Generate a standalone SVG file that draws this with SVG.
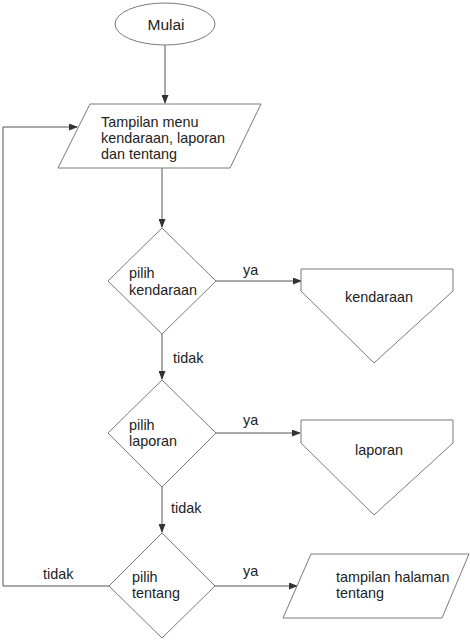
<svg xmlns="http://www.w3.org/2000/svg" width="470" height="640" viewBox="0 0 470 640">
<style>
.shape{fill:#fff;stroke:#7a7a7a;stroke-width:1}
.conn{fill:none;stroke:#555;stroke-width:1}
text{font-family:"Liberation Sans",Arial,sans-serif;font-size:14.4px;fill:#222}
</style>
<defs>
<marker id="arr" markerWidth="9" markerHeight="7" refX="8" refY="3.5" orient="auto" markerUnits="userSpaceOnUse">
<path d="M0,0 L9,3.5 L0,7 z" fill="#333"/>
</marker>
</defs>
<rect width="470" height="640" fill="#fff"/>
<g id="connectors">
<line class="conn" x1="165" y1="45" x2="165" y2="103" marker-end="url(#arr)"/>
<line class="conn" x1="162" y1="168" x2="162" y2="227" marker-end="url(#arr)"/>
<line class="conn" x1="216" y1="281" x2="301" y2="281" marker-end="url(#arr)"/>
<line class="conn" x1="162" y1="334" x2="162" y2="379" marker-end="url(#arr)"/>
<line class="conn" x1="216" y1="433" x2="300" y2="433" marker-end="url(#arr)"/>
<line class="conn" x1="162" y1="487" x2="162" y2="532" marker-end="url(#arr)"/>
<line class="conn" x1="215" y1="586" x2="297" y2="586" marker-end="url(#arr)"/>
<polyline class="conn" points="109,586 3,586 3,127 77,127" marker-end="url(#arr)"/>
<text x="243" y="275">ya</text>
<text x="173" y="363">tidak</text>
<text x="243" y="425">ya</text>
<text x="171" y="513">tidak</text>
<text x="243" y="576">ya</text>
<text x="43" y="579">tidak</text>
</g>
<g id="mulai">
<ellipse class="shape" cx="165" cy="24" rx="50" ry="21"/>
<text x="166" y="30" text-anchor="middle" style="font-size:15.5px">Mulai</text>
</g>
<g id="menu">
<polygon class="shape" points="90,104 261,104 230,168 58,168"/>
<text x="101" y="127">Tampilan menu</text>
<text x="101" y="143">kendaraan, laporan</text>
<text x="101" y="159">dan tentang</text>
</g>
<g id="pilih-kendaraan">
<polygon class="shape" points="162,228 216,281 162,334 108,281"/>
<text x="129" y="278">pilih</text>
<text x="129" y="295">kendaraan</text>
</g>
<g id="kendaraan">
<polygon class="shape" points="301,269 453,269 453,291 374,363 301,291"/>
<text x="379" y="302" text-anchor="middle">kendaraan</text>
</g>
<g id="pilih-laporan">
<polygon class="shape" points="162,380 216,433 162,487 108,433"/>
<text x="129" y="430">pilih</text>
<text x="129" y="446">laporan</text>
</g>
<g id="laporan">
<polygon class="shape" points="301,420 453,420 453,443 374,515 301,443"/>
<text x="379" y="455" text-anchor="middle">laporan</text>
</g>
<g id="pilih-tentang">
<polygon class="shape" points="162,533 215,586 162,638 109,586"/>
<text x="132" y="582">pilih</text>
<text x="132" y="598">tentang</text>
</g>
<g id="halaman-tentang">
<polygon class="shape" points="311,554 469,554 442,618 283,618"/>
<text x="336" y="582">tampilan halaman</text>
<text x="336" y="598">tentang</text>
</g>
</svg>
